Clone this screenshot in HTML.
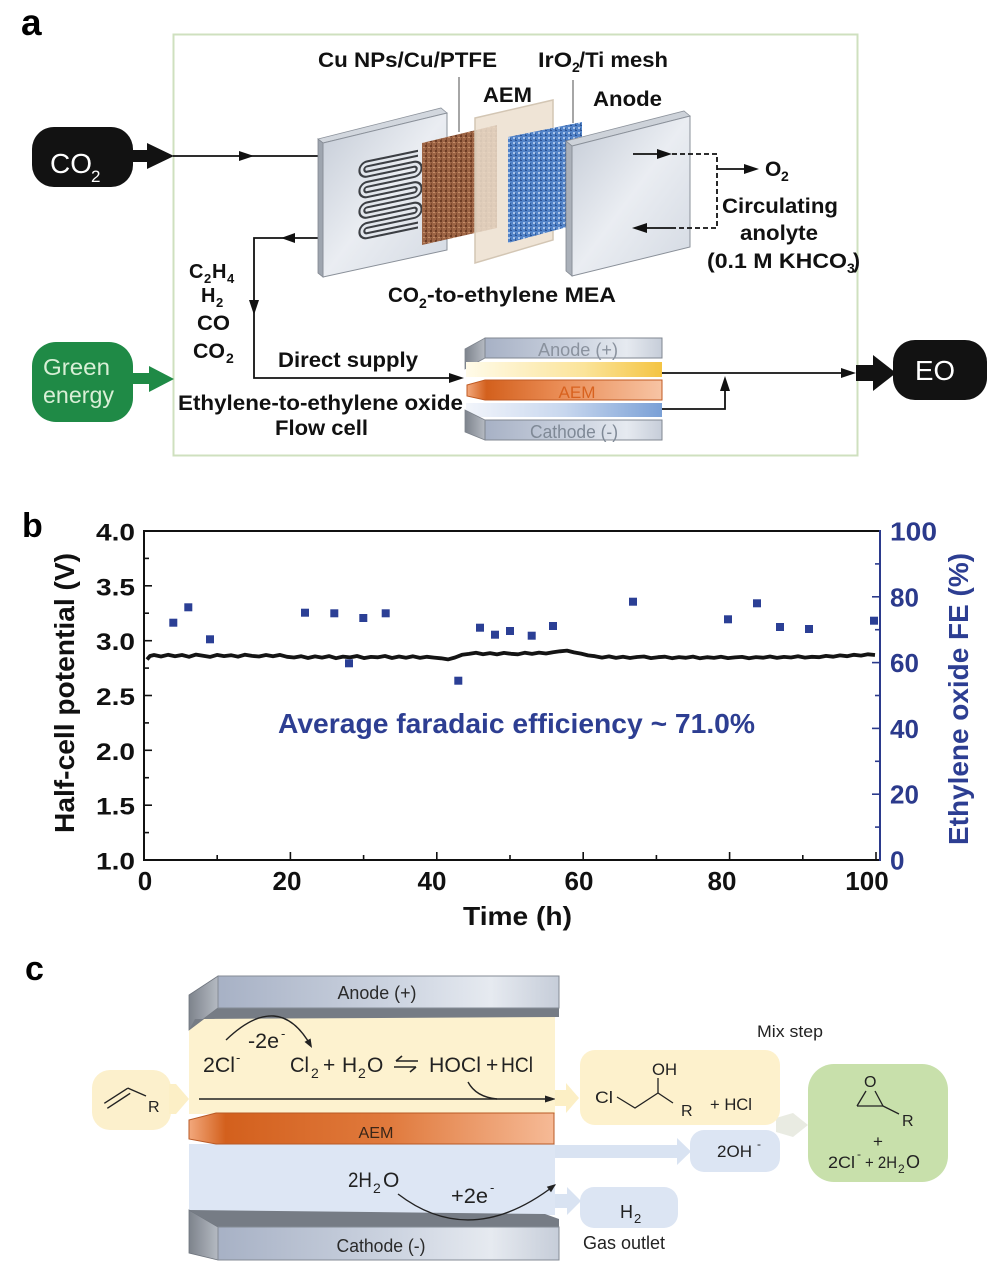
<!DOCTYPE html>
<html><head><meta charset="utf-8"><style>
html,body{margin:0;padding:0;background:#fff}
svg{display:block}
.b{font-family:"Liberation Sans",Arial,sans-serif;font-weight:bold}
.r{font-family:"Liberation Sans",Arial,sans-serif}
</style></head><body>
<svg width="991" height="1265" viewBox="0 0 991 1265" xmlns="http://www.w3.org/2000/svg">
<defs>
<linearGradient id="gPlate" x1="0" y1="0" x2="1" y2="1"><stop offset="0" stop-color="#c4cbd6"/><stop offset="0.5" stop-color="#eaedf2"/><stop offset="1" stop-color="#d3d9e2"/></linearGradient>
<pattern id="pCu" width="5" height="5" patternUnits="userSpaceOnUse"><rect width="5" height="5" fill="#9c6445"/><rect width="2" height="2" fill="#6e3d25"/><rect x="3" y="2" width="2" height="1" fill="#c48c66"/><rect x="1" y="3" width="1" height="2" fill="#80492d"/></pattern>
<pattern id="pBl" width="5" height="5" patternUnits="userSpaceOnUse"><rect width="5" height="5" fill="#5283c8"/><rect width="2" height="1" fill="#2a5296"/><rect x="3" y="2" width="2" height="2" fill="#a9c4ea"/><rect x="0" y="3" width="1" height="2" fill="#34609f"/></pattern>
<linearGradient id="gBar" x1="0" y1="0" x2="1" y2="0"><stop offset="0" stop-color="#a7b1c5"/><stop offset="0.55" stop-color="#cfd6e2"/><stop offset="0.8" stop-color="#e6eaf0"/><stop offset="1" stop-color="#c6cdd9"/></linearGradient>
<linearGradient id="gYel" x1="0" y1="0" x2="1" y2="0"><stop offset="0" stop-color="#fffbe9"/><stop offset="0.6" stop-color="#fbe49a"/><stop offset="1" stop-color="#f4c443"/></linearGradient>
<linearGradient id="gAem" x1="0" y1="0" x2="1" y2="0"><stop offset="0" stop-color="#f2a87c"/><stop offset="0.1" stop-color="#d3601d"/><stop offset="0.55" stop-color="#e07a3d"/><stop offset="1" stop-color="#f6ba96"/></linearGradient>
<linearGradient id="gAemA" x1="0" y1="0" x2="1" y2="0"><stop offset="0" stop-color="#f2a87c"/><stop offset="0.1" stop-color="#d3601d"/><stop offset="0.45" stop-color="#e98a52"/><stop offset="1" stop-color="#f7c4a4"/></linearGradient>
<linearGradient id="gBlu" x1="0" y1="0" x2="1" y2="0"><stop offset="0" stop-color="#f2f5fb"/><stop offset="0.5" stop-color="#c8d7ee"/><stop offset="1" stop-color="#7aa0d6"/></linearGradient>
<linearGradient id="gBev" x1="0" y1="0" x2="1" y2="0"><stop offset="0" stop-color="#7d838c"/><stop offset="1" stop-color="#b5bac2"/></linearGradient>
</defs>
<rect width="991" height="1265" fill="#fff"/>

<!-- ================= PANEL A ================= -->
<text x="21" y="35" font-size="37" class="b">a</text>
<rect x="173.5" y="34.5" width="684" height="421" fill="none" stroke="#cfe0bf" stroke-width="2"/>

<!-- CO2 pill -->
<rect x="32" y="127" width="101" height="60" rx="22" fill="#121212"/>
<rect x="131" y="150" width="18" height="12" fill="#121212"/>
<polygon points="147,143 174,156 147,169" fill="#121212"/>
<text x="50" y="173" font-size="28" fill="#fff" class="r">CO</text>
<text x="91" y="182" font-size="17" fill="#fff" class="r">2</text>

<!-- Green energy pill -->
<rect x="32" y="342" width="101" height="80" rx="24" fill="#1f8a46"/>
<rect x="131" y="373" width="20" height="11" fill="#1f8a46"/>
<polygon points="149,366 174,379 149,392" fill="#1f8a46"/>
<text x="43" y="375" font-size="23" fill="#d8efd6" class="r" textLength="67" lengthAdjust="spacingAndGlyphs">Green</text>
<text x="43" y="403" font-size="23" fill="#d8efd6" class="r" textLength="71" lengthAdjust="spacingAndGlyphs">energy</text>

<!-- CO2 feed line -->
<line x1="173" y1="156" x2="318" y2="156" stroke="#111" stroke-width="1.8"/>
<polygon points="239,151 254,156 239,161" fill="#111"/>

<!-- return line -->
<polyline points="318,238 254,238 254,378 458,378" fill="none" stroke="#111" stroke-width="1.8"/>
<polygon points="295,233 281,238 295,243" fill="#111"/>
<polygon points="249,300 254,315 259,300" fill="#111"/>
<polygon points="449,373 464,378 449,383" fill="#111"/>

<!-- plate 1 -->
<polygon points="318,139 441,108 447,113 323,143" fill="#d2d7de" stroke="#8d939c" stroke-width="0.8"/>
<polygon points="318,139 323,143 323,277 318,273" fill="#9ea5af" stroke="#80868f" stroke-width="0.8"/>
<polygon points="323,143 447,113 447,250 323,277" fill="url(#gPlate)" stroke="#8a9099" stroke-width="1"/>
<g transform="matrix(1,-0.21,0,1,0,76)">
<path d="M418,165 L367,165 A5.1,5.1 0 0 0 367,175.25 L414,175.25 A5.1,5.1 0 0 1 414,185.5 L367,185.5 A5.1,5.1 0 0 0 367,195.75 L414,195.75 A5.1,5.1 0 0 1 414,206 L367,206 A5.1,5.1 0 0 0 367,216.25 L414,216.25 A5.1,5.1 0 0 1 414,226.5 L367,226.5 A5.1,5.1 0 0 0 367,236.75 L418,236.75" fill="none" stroke="#3c3f44" stroke-width="7"/>
<path d="M418,165 L367,165 A5.1,5.1 0 0 0 367,175.25 L414,175.25 A5.1,5.1 0 0 1 414,185.5 L367,185.5 A5.1,5.1 0 0 0 367,195.75 L414,195.75 A5.1,5.1 0 0 1 414,206 L367,206 A5.1,5.1 0 0 0 367,216.25 L414,216.25 A5.1,5.1 0 0 1 414,226.5 L367,226.5 A5.1,5.1 0 0 0 367,236.75 L418,236.75" fill="none" stroke="#e2e6ec" stroke-width="2.8"/>
</g>
<!-- Cu mesh -->
<polygon points="422,143 497,125 497,228 422,245" fill="url(#pCu)"/>
<!-- AEM sheet -->
<polygon points="475,118 553,100 553,240 475,263" fill="#ecdfcf" fill-opacity="0.85" stroke="#d3c6b4" stroke-width="1.5"/>
<!-- blue mesh -->
<polygon points="508,137 582,122 582,223 508,243" fill="url(#pBl)"/>
<!-- anode plate -->
<polygon points="566,141 684,111 690,116 572,146" fill="#cdd2d9" stroke="#8d939c" stroke-width="0.8"/>
<polygon points="566,141 572,146 572,276 566,271" fill="#aab0b9" stroke="#80868f" stroke-width="0.8"/>
<polygon points="572,146 690,116 690,247 572,276" fill="url(#gPlate)" stroke="#8a9099" stroke-width="1"/>

<!-- leader lines -->
<line x1="459" y1="77" x2="459" y2="132" stroke="#777" stroke-width="1.3"/>
<line x1="573" y1="80" x2="573" y2="123" stroke="#777" stroke-width="1.3"/>

<!-- anolyte loop -->
<line x1="633" y1="154" x2="662" y2="154" stroke="#111" stroke-width="1.8"/>
<polygon points="657,149 672,154 657,159" fill="#111"/>
<polyline points="672,154 717,154 717,228 675,228" fill="none" stroke="#111" stroke-width="1.8" stroke-dasharray="5,3"/>
<line x1="675" y1="228" x2="642" y2="228" stroke="#111" stroke-width="1.8"/>
<polygon points="647,223 632,228 647,233" fill="#111"/>
<line x1="717" y1="169" x2="747" y2="169" stroke="#111" stroke-width="1.8"/>
<polygon points="744,164 759,169 744,174" fill="#111"/>

<!-- panel a labels -->
<g class="b" fill="#111">
<text x="318" y="67" font-size="21" textLength="179" lengthAdjust="spacingAndGlyphs">Cu NPs/Cu/PTFE</text>
<text x="483" y="102" font-size="21" textLength="49" lengthAdjust="spacingAndGlyphs">AEM</text>
<text x="538" y="67" font-size="21" textLength="34" lengthAdjust="spacingAndGlyphs">IrO</text>
<text x="572" y="72" font-size="14">2</text>
<text x="579" y="67" font-size="21" textLength="89" lengthAdjust="spacingAndGlyphs">/Ti mesh</text>
<text x="593" y="106" font-size="21" textLength="69" lengthAdjust="spacingAndGlyphs">Anode</text>
<text x="765" y="176" font-size="21">O</text>
<text x="781" y="181" font-size="14">2</text>
<text x="722" y="213" font-size="21" textLength="116" lengthAdjust="spacingAndGlyphs">Circulating</text>
<text x="740" y="240" font-size="21" textLength="78" lengthAdjust="spacingAndGlyphs">anolyte</text>
<text x="707" y="268" font-size="21" textLength="140" lengthAdjust="spacingAndGlyphs">(0.1 M KHCO</text>
<text x="847" y="273" font-size="14">3</text>
<text x="853" y="268" font-size="21">)</text>
<text x="388" y="302" font-size="21" textLength="31" lengthAdjust="spacingAndGlyphs">CO</text>
<text x="419" y="308" font-size="14">2</text>
<text x="427" y="302" font-size="21" textLength="189" lengthAdjust="spacingAndGlyphs">-to-ethylene MEA</text>
<text x="189" y="278" font-size="20">C</text>
<text x="204" y="283" font-size="13">2</text>
<text x="212" y="278" font-size="20">H</text>
<text x="227" y="283" font-size="13">4</text>
<text x="201" y="302" font-size="20">H</text>
<text x="216" y="307" font-size="13">2</text>
<text x="197" y="330" font-size="21" textLength="33" lengthAdjust="spacingAndGlyphs">CO</text>
<text x="193" y="358" font-size="21" textLength="32" lengthAdjust="spacingAndGlyphs">CO</text>
<text x="226" y="363" font-size="14">2</text>
<text x="278" y="367" font-size="21" textLength="140" lengthAdjust="spacingAndGlyphs">Direct supply</text>
<text x="178" y="410" font-size="21" textLength="285" lengthAdjust="spacingAndGlyphs">Ethylene-to-ethylene oxide</text>
<text x="275" y="435" font-size="21" textLength="93" lengthAdjust="spacingAndGlyphs">Flow cell</text>
</g>

<!-- flow cell -->
<polygon points="465,349 485,338 485,358 465,369" fill="url(#gBev)" stroke="#7d838c" stroke-width="0.8"/>
<rect x="485" y="338" width="177" height="20" fill="url(#gBar)" stroke="#808791" stroke-width="1"/>
<text x="578" y="356" font-size="18" fill="#8a929e" class="r" text-anchor="middle" textLength="80" lengthAdjust="spacingAndGlyphs">Anode (+)</text>
<rect x="466" y="362" width="196" height="15" fill="url(#gYel)"/>
<polygon points="467,385 485,380 662,380 662,400 485,400 467,396" fill="url(#gAemA)" stroke="#c05a22" stroke-width="1"/>
<text x="577" y="398" font-size="17" fill="#d8621f" class="r" text-anchor="middle" textLength="37" lengthAdjust="spacingAndGlyphs">AEM</text>
<rect x="466" y="403" width="196" height="14" fill="url(#gBlu)"/>
<polygon points="465,410 485,420 485,440 465,432" fill="url(#gBev)" stroke="#7d838c" stroke-width="0.8"/>
<rect x="485" y="420" width="177" height="20" fill="url(#gBar)" stroke="#808791" stroke-width="1"/>
<text x="574" y="438" font-size="18" fill="#7f8996" class="r" text-anchor="middle" textLength="88" lengthAdjust="spacingAndGlyphs">Cathode (-)</text>

<!-- outputs to EO -->
<line x1="662" y1="373" x2="845" y2="373" stroke="#111" stroke-width="1.8"/>
<polygon points="841,368 856,373 841,378" fill="#111"/>
<polyline points="662,409 725,409 725,388" fill="none" stroke="#111" stroke-width="1.8"/>
<polygon points="720,391 725,376 730,391" fill="#111"/>
<rect x="856" y="365" width="19" height="16" fill="#121212"/>
<polygon points="873,355 896,373 873,391" fill="#121212"/>
<rect x="893" y="340" width="94" height="60" rx="22" fill="#121212"/>
<text x="915" y="380" font-size="28" fill="#fff" class="r" textLength="40" lengthAdjust="spacingAndGlyphs">EO</text>

<!-- ================= PANEL B ================= -->
<text x="22" y="537" font-size="34" class="b">b</text>
<line x1="144" y1="531" x2="880" y2="531" stroke="#111" stroke-width="2"/>
<line x1="144" y1="530" x2="144" y2="861" stroke="#111" stroke-width="2"/>
<line x1="143" y1="860" x2="880" y2="860" stroke="#111" stroke-width="2"/>
<line x1="880" y1="530" x2="880" y2="861" stroke="#2b3a8c" stroke-width="2"/>
<g stroke="#111" stroke-width="1.6">
<line x1="144" y1="585.8" x2="152" y2="585.8"/><line x1="144" y1="640.7" x2="152" y2="640.7"/><line x1="144" y1="695.5" x2="152" y2="695.5"/><line x1="144" y1="750.3" x2="152" y2="750.3"/><line x1="144" y1="805.2" x2="152" y2="805.2"/>
<line x1="144" y1="558.4" x2="149" y2="558.4"/><line x1="144" y1="613.2" x2="149" y2="613.2"/><line x1="144" y1="668.1" x2="149" y2="668.1"/><line x1="144" y1="722.9" x2="149" y2="722.9"/><line x1="144" y1="777.7" x2="149" y2="777.7"/><line x1="144" y1="832.6" x2="149" y2="832.6"/>
<line x1="290.4" y1="860" x2="290.4" y2="852"/><line x1="436.8" y1="860" x2="436.8" y2="852"/><line x1="583.2" y1="860" x2="583.2" y2="852"/><line x1="729.6" y1="860" x2="729.6" y2="852"/><line x1="876" y1="860" x2="876" y2="852"/>
<line x1="217.2" y1="860" x2="217.2" y2="855"/><line x1="363.6" y1="860" x2="363.6" y2="855"/><line x1="510" y1="860" x2="510" y2="855"/><line x1="656.4" y1="860" x2="656.4" y2="855"/><line x1="802.8" y1="860" x2="802.8" y2="855"/>
</g>
<g stroke="#2b3a8c" stroke-width="1.6">
<line x1="880" y1="596.8" x2="872" y2="596.8"/><line x1="880" y1="662.6" x2="872" y2="662.6"/><line x1="880" y1="728.4" x2="872" y2="728.4"/><line x1="880" y1="794.2" x2="872" y2="794.2"/>
<line x1="880" y1="563.9" x2="875" y2="563.9"/><line x1="880" y1="629.7" x2="875" y2="629.7"/><line x1="880" y1="695.5" x2="875" y2="695.5"/><line x1="880" y1="761.3" x2="875" y2="761.3"/><line x1="880" y1="827.1" x2="875" y2="827.1"/>
</g>
<g class="b" font-size="24" fill="#111">
<text x="96" y="540.5" textLength="39" lengthAdjust="spacingAndGlyphs">4.0</text>
<text x="96" y="595.3" textLength="39" lengthAdjust="spacingAndGlyphs">3.5</text>
<text x="96" y="650.2" textLength="39" lengthAdjust="spacingAndGlyphs">3.0</text>
<text x="96" y="705" textLength="39" lengthAdjust="spacingAndGlyphs">2.5</text>
<text x="96" y="759.8" textLength="39" lengthAdjust="spacingAndGlyphs">2.0</text>
<text x="96" y="814.7" textLength="39" lengthAdjust="spacingAndGlyphs">1.5</text>
<text x="96" y="869.5" textLength="39" lengthAdjust="spacingAndGlyphs">1.0</text>
</g>
<g class="b" font-size="26" fill="#111" text-anchor="middle">
<text x="145" y="890">0</text>
<text x="287" y="890">20</text>
<text x="432" y="890">40</text>
<text x="579" y="890">60</text>
<text x="722" y="890">80</text>
<text x="867" y="890">100</text>
</g>
<g class="b" font-size="26" fill="#2b3a8c">
<text x="890" y="540.5" textLength="47" lengthAdjust="spacingAndGlyphs">100</text>
<text x="890" y="606.3">80</text>
<text x="890" y="672.1">60</text>
<text x="890" y="737.9">40</text>
<text x="890" y="803.7">20</text>
<text x="890" y="869.5">0</text>
</g>
<text x="463" y="925" font-size="26" class="b" fill="#111" textLength="109" lengthAdjust="spacingAndGlyphs">Time (h)</text>
<text transform="translate(74,693) rotate(-90)" text-anchor="middle" font-size="28" class="b" fill="#111" textLength="280" lengthAdjust="spacingAndGlyphs">Half-cell potential (V)</text>
<text transform="translate(968,699) rotate(-90)" text-anchor="middle" font-size="28" class="b" fill="#2d3e92" textLength="292" lengthAdjust="spacingAndGlyphs">Ethylene oxide FE (%)</text>
<text x="278" y="733" font-size="28" class="b" fill="#2d3e92" textLength="477" lengthAdjust="spacingAndGlyphs">Average faradaic efficiency ~ 71.0%</text>

<!-- potential trace -->
<polyline fill="none" stroke="#141414" stroke-width="3.8" stroke-linejoin="round" points="147,659.5 150,656 154,655 161,656.5 168,654.8 175,656.2 182,655 189,656.8 196,654.6 203,655.8 210,656.9 217,654.9 224,656.1 231,655.2 238,656.7 245,654.7 252,655.9 259,656.5 266,655 273,656.3 280,654.9 287,656.8 294,657.5 301,656.2 308,658 315,656.4 322,657.6 329,656.1 336,658.2 343,656.6 350,657.4 357,656 364,658.1 371,656.9 378,657.3 385,656 392,658 399,656.5 406,657.7 413,656.3 420,657.9 427,656.8 434,657.6 441,658.3 448,659.4 455,657.5 462,654.8 469,653.9 476,652.8 483,654.2 490,653.1 497,654.4 504,652.9 511,653.8 518,654.3 525,652.7 532,653.9 539,652.6 546,653.5 553,652.2 560,651.3 567,650.6 574,652.4 581,653.6 588,655.4 595,656.2 602,657.6 609,656.4 616,657.9 623,656.8 630,658 637,657 644,656.5 651,658.1 658,657.2 665,656.7 672,658.2 679,657.1 686,657.8 693,656.6 700,658.3 707,657.2 714,657.9 721,656.8 728,658.1 735,657.4 742,656.9 749,658.2 756,657.1 763,657.7 770,656.5 777,657.9 784,656.9 791,657.5 798,656.3 805,657.6 812,656.8 819,657.2 826,655.9 833,656.7 840,655.4 847,656.2 854,654.8 861,655.6 868,654.3 875,655"/>
<g fill="#2b3f95">
<rect x="169.3" y="618.7" width="8" height="8"/><rect x="184.3" y="603.3" width="8" height="8"/><rect x="206" y="635.3" width="8" height="8"/>
<rect x="301" y="608.7" width="8" height="8"/><rect x="330.3" y="609.3" width="8" height="8"/><rect x="345" y="659.3" width="8" height="8"/>
<rect x="359.3" y="614" width="8" height="8"/><rect x="381.7" y="609.3" width="8" height="8"/><rect x="454.3" y="676.7" width="8" height="8"/>
<rect x="476" y="623.7" width="8" height="8"/><rect x="491" y="630.7" width="8" height="8"/><rect x="506" y="627" width="8" height="8"/>
<rect x="527.7" y="631.7" width="8" height="8"/><rect x="549" y="622" width="8" height="8"/><rect x="629" y="597.7" width="8" height="8"/>
<rect x="724" y="615.3" width="8" height="8"/><rect x="753" y="599.3" width="8" height="8"/><rect x="776" y="623" width="8" height="8"/>
<rect x="805" y="625" width="8" height="8"/><rect x="870" y="616.7" width="8" height="8"/>
</g>

<!-- ================= PANEL C ================= -->
<text x="25" y="980" font-size="34" class="b">c</text>

<rect x="92" y="1070" width="79" height="60" rx="18" fill="#fcf0cc"/>
<polygon points="169,1084 176,1084 189,1099 176,1114 169,1114" fill="#fcefc6"/>
<g stroke="#222" stroke-width="1.4" fill="none">
<line x1="104.3" y1="1103.3" x2="127.6" y2="1088.3"/>
<line x1="107.3" y1="1108.3" x2="130.2" y2="1093.3"/>
<line x1="127.6" y1="1088" x2="146" y2="1096"/>
</g>
<text x="148" y="1112" font-size="16" fill="#222" class="r">R</text>

<rect x="189" y="1017" width="366" height="97" fill="#fdf2cf"/>
<rect x="189" y="1144" width="366" height="71" fill="#dde6f4"/>

<polygon points="189,995 218,976 218,1008 189,1030" fill="url(#gBev)" stroke="#6f757e" stroke-width="0.8"/>
<polygon points="189,1030 218,1008 559,1008 559,1017 195,1019" fill="#767c85"/>
<rect x="218" y="976" width="341" height="32" fill="url(#gBar)" stroke="#848b95" stroke-width="1"/>
<text x="377" y="999" font-size="18" fill="#2a2a2a" class="r" text-anchor="middle" textLength="79" lengthAdjust="spacingAndGlyphs">Anode (+)</text>

<polygon points="189,1210 218,1227 218,1260 189,1253" fill="url(#gBev)" stroke="#6f757e" stroke-width="0.8"/>
<polygon points="189,1210 545,1214 559,1219 559,1227 218,1227" fill="#767c85"/>
<rect x="218" y="1227" width="341" height="33" fill="url(#gBar)" stroke="#848b95" stroke-width="1"/>
<text x="381" y="1252" font-size="18" fill="#2a2a2a" class="r" text-anchor="middle" textLength="89" lengthAdjust="spacingAndGlyphs">Cathode (-)</text>

<polygon points="189,1120 216,1113 554,1113 554,1144 216,1144 189,1139" fill="url(#gAem)" stroke="#b95a26" stroke-width="1"/>
<text x="376" y="1138" font-size="16" fill="#3a2618" class="r" text-anchor="middle" textLength="35" lengthAdjust="spacingAndGlyphs">AEM</text>

<line x1="199" y1="1099" x2="547" y2="1099" stroke="#222" stroke-width="1.4"/>
<polygon points="545,1095.5 556,1099 545,1102.5" fill="#222"/>

<g class="r" fill="#222">
<text x="203" y="1072" font-size="21" textLength="32" lengthAdjust="spacingAndGlyphs">2Cl</text>
<text x="236" y="1062" font-size="13">-</text>
<text x="248" y="1048" font-size="21" textLength="31" lengthAdjust="spacingAndGlyphs">-2e</text>
<text x="281" y="1038" font-size="13">-</text>
<text x="290" y="1072" font-size="21" textLength="19" lengthAdjust="spacingAndGlyphs">Cl</text>
<text x="311" y="1078" font-size="14">2</text>
<text x="323" y="1072" font-size="21">+</text>
<text x="342" y="1072" font-size="21">H</text>
<text x="358" y="1078" font-size="14">2</text>
<text x="367" y="1072" font-size="21">O</text>
<text x="429" y="1072" font-size="21" textLength="52" lengthAdjust="spacingAndGlyphs">HOCl</text>
<text x="486" y="1072" font-size="21">+</text>
<text x="501" y="1072" font-size="21" textLength="32" lengthAdjust="spacingAndGlyphs">HCl</text>
<text x="348" y="1187" font-size="21" textLength="24" lengthAdjust="spacingAndGlyphs">2H</text>
<text x="373" y="1193" font-size="14">2</text>
<text x="383" y="1187" font-size="21">O</text>
<text x="451" y="1203" font-size="21" textLength="37" lengthAdjust="spacingAndGlyphs">+2e</text>
<text x="490" y="1192" font-size="13">-</text>
</g>
<g stroke="#222" stroke-width="1.6" fill="none">
<path d="M396,1061 L418,1061 M396,1061 L402,1056"/>
<path d="M394,1067 L416,1067 M416,1067 L410,1072"/>
</g>
<path d="M226,1040 Q279,989 311,1046" fill="none" stroke="#222" stroke-width="1.4"/>
<polygon points="312,1048 310.6,1038.5 304.5,1041.9" fill="#222"/>
<path d="M468,1082 Q476,1097 497,1099" fill="none" stroke="#222" stroke-width="1.4"/>
<path d="M398,1194 Q471,1250 555,1185" fill="none" stroke="#222" stroke-width="1.4"/>
<polygon points="556,1184 551,1192.3 546.8,1186.7" fill="#222"/>

<polygon points="555,1090 566,1090 566,1083 579,1098 566,1113 566,1106 555,1106" fill="#fcefc5"/>
<polygon points="555,1145 677,1145 677,1138 691,1151.5 677,1165 677,1158 555,1158" fill="#d9e3f2"/>
<polygon points="555,1194 567,1194 567,1187 581,1201 567,1215 567,1208 555,1208" fill="#d9e3f2"/>
<polygon points="776,1118 793,1113 808,1125 793,1137 776,1132" fill="#e9ebe2"/>

<rect x="580" y="1050" width="200" height="75" rx="15" fill="#fdf1cc"/>
<rect x="690" y="1130" width="90" height="42" rx="14" fill="#dce5f3"/>
<rect x="808" y="1064" width="140" height="118" rx="26" fill="#c8e0ab"/>
<rect x="580" y="1187" width="98" height="41" rx="14" fill="#dce5f3"/>

<g class="r" fill="#222">
<text x="757" y="1037" font-size="17" textLength="66" lengthAdjust="spacingAndGlyphs">Mix step</text>
<text x="652" y="1075" font-size="17" textLength="25" lengthAdjust="spacingAndGlyphs">OH</text>
<text x="595" y="1103" font-size="17" textLength="18" lengthAdjust="spacingAndGlyphs">Cl</text>
<text x="681" y="1116" font-size="16">R</text>
<text x="710" y="1110" font-size="17" textLength="42" lengthAdjust="spacingAndGlyphs">+ HCl</text>
<text x="717" y="1157" font-size="17" textLength="35" lengthAdjust="spacingAndGlyphs">2OH</text>
<text x="757" y="1148" font-size="12">-</text>
<text x="864" y="1087" font-size="16">O</text>
<text x="902" y="1126" font-size="16">R</text>
<text x="873" y="1147" font-size="17">+</text>
<text x="828" y="1168" font-size="17" textLength="27" lengthAdjust="spacingAndGlyphs">2Cl</text>
<text x="857" y="1158" font-size="12">-</text>
<text x="865" y="1168" font-size="17" textLength="32" lengthAdjust="spacingAndGlyphs">+ 2H</text>
<text x="898" y="1173" font-size="12">2</text>
<text x="906" y="1168" font-size="18">O</text>
<text x="620" y="1218" font-size="18">H</text>
<text x="634" y="1223" font-size="13">2</text>
<text x="583" y="1249" font-size="18" textLength="82" lengthAdjust="spacingAndGlyphs">Gas outlet</text>
</g>
<g stroke="#222" stroke-width="1.3" fill="none">
<polyline points="617,1097 635,1108 658,1093 673,1103"/>
<line x1="658" y1="1093" x2="658" y2="1078"/>
<polyline points="857,1106 866,1091"/>
<polyline points="883,1106 875,1091"/>
<line x1="857" y1="1106" x2="883" y2="1106"/>
<line x1="883" y1="1106" x2="899" y2="1114"/>
</g>
</svg>
</body></html>
